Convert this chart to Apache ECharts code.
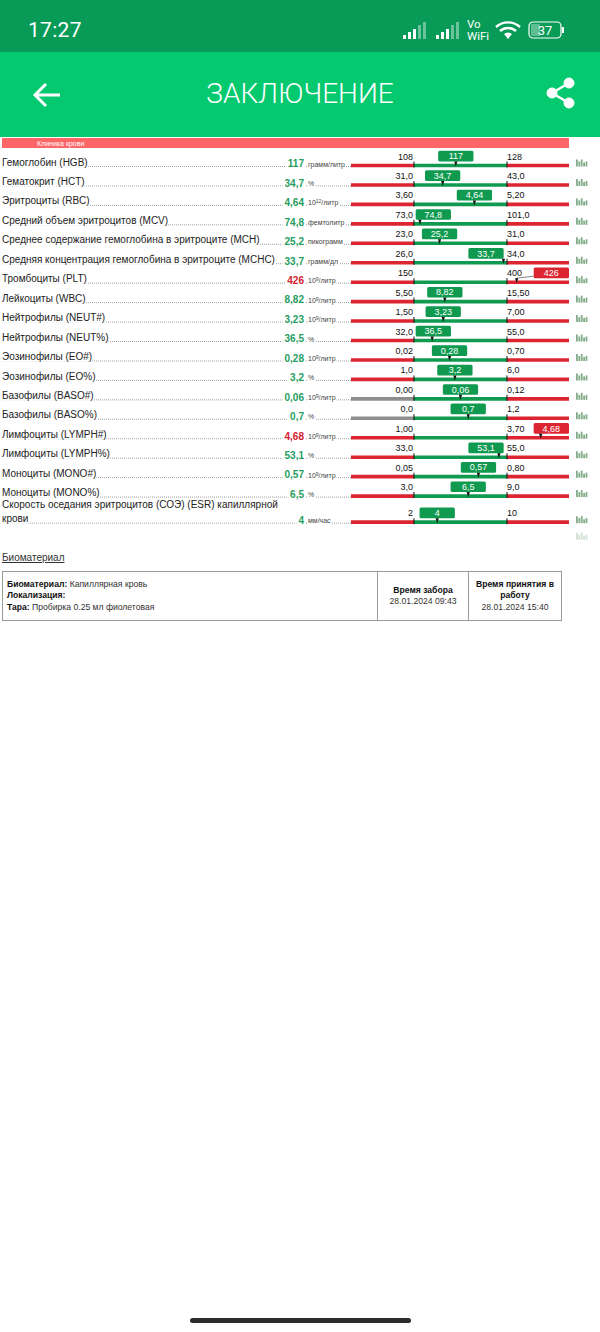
<!DOCTYPE html>
<html>
<head>
<meta charset="utf-8">
<title>Заключение</title>
<script src="https://cdn.jsdelivr.net/npm/echarts@6/dist/echarts.min.js"></script>
<style>
  html, body { margin: 0; padding: 0; background: #fff; }
  body { width: 600px; height: 1332px; position: relative; overflow: hidden; font-family: "Liberation Sans", Arial, sans-serif; }
  #status { position: absolute; left: 0; top: 0; width: 600px; height: 52px; background: #089b57; color: #fff; }
  #status .time { position: absolute; left: 28px; top: 18px; font: 21px Roboto, sans-serif; letter-spacing: .3px; }
  #appbar { position: absolute; left: 0; top: 52px; width: 600px; height: 85px; background: #04c96f; color: #fff; }
  #appbar .title { position: absolute; left: 0; right: 0; top: 25px; text-align: center; font: 300 28px Roboto, sans-serif; }
  #band { position: absolute; left: 2px; top: 138px; width: 567px; height: 10px; background: #fd6567; color: #fff; font-size: 7px; line-height: 11px; }
  #band span { position: absolute; left: 35px; }
  #chart { position: absolute; left: 0; top: 148px; width: 600px; height: 400px; }
  #bioTitle { position: absolute; left: 2px; top: 552px; font-size: 10px; color: #333; text-decoration: underline; }
  table { position: absolute; left: 2px; top: 571px; width: 559px; height: 50px; border-collapse: collapse; font-size: 8.6px; color: #333; table-layout: fixed; }
  td { border: 1px solid #999; padding: 0 4px; line-height: 11.5px; }
  td.c { text-align: center; }
  td b { color: #111; }
  #home { position: absolute; left: 190px; top: 1318px; width: 221px; height: 5px; border-radius: 3px; background: #2c2c2c; }
</style>
</head>
<body>
<div id="status">
  <div class="time">17:27</div>
  <svg style="position:absolute;left:400px;top:16px" width="175" height="28" fill="#fff">
    <g><rect x="3" y="19" width="3" height="4"/><rect x="8" y="16" width="3" height="7"/><rect x="13" y="13" width="3" height="10"/><rect x="18" y="9" width="3" height="14" opacity=".4"/><rect x="23" y="6" width="3" height="17" opacity=".4"/></g>
    <g transform="translate(33,0)"><rect x="3" y="19" width="3" height="4"/><rect x="8" y="16" width="3" height="7"/><rect x="13" y="13" width="3" height="10"/><rect x="18" y="9" width="3" height="14" opacity=".4"/><rect x="23" y="6" width="3" height="17" opacity=".4"/></g>
    <text x="67" y="12" font-family="Roboto" font-size="11.5">Vo</text>
    <text x="67" y="24" font-family="Roboto" font-size="11.5">WiFi</text>
    <g fill="none" stroke="#fff" stroke-width="2.4"><path d="M96 11 a18 18 0 0 1 24 0"/><path d="M100 15 a12 12 0 0 1 16 0"/></g>
    <path d="M104 18 a6 6 0 0 1 8 0 L108 23 Z"/>
    <rect x="129" y="6" width="32" height="16" rx="4" fill="none" stroke="#fff" stroke-width="1.2"/>
    <rect x="131" y="8" width="9" height="12" rx="1" opacity=".35"/>
    <text x="145" y="19" text-anchor="middle" font-family="Roboto" font-size="13">37</text>
    <rect x="162" y="11" width="2" height="6"/>
  </svg>
</div>
<div id="appbar">
  <div class="title">ЗАКЛЮЧЕНИЕ</div>
  <svg style="position:absolute;left:30px;top:26px" width="36" height="34" fill="none" stroke="#fff" stroke-width="3"><path d="M6 17 H30 M16 6 L5 17 L16 28"/></svg>
  <svg style="position:absolute;left:543px;top:24px" width="36" height="36" fill="#fff" stroke="#fff"><circle cx="26" cy="7" r="5"/><circle cx="9" cy="17" r="5"/><circle cx="26" cy="27" r="5"/><path d="M26 7 L9 17 L26 27" fill="none" stroke-width="2.5"/></svg>
</div>
<div id="band"><span>Клиника крови</span></div>
<div id="chart"></div>
<div id="bioTitle">Биоматериал</div>
<table>
  <colgroup><col style="width:375px"><col style="width:91px"><col style="width:93px"></colgroup>
  <tr>
    <td><b>Биоматериал:</b> Капиллярная кровь<br><b>Локализация:</b><br><b>Тара:</b> Пробирка 0.25 мл фиолетовая</td>
    <td class="c"><b>Время забора</b><br>28.01.2024 09:43</td>
    <td class="c"><b>Время принятия в работу</b><br>28.01.2024 15:40</td>
  </tr>
</table>
<div id="home"></div>
<script>
const names = [
  'Гемоглобин (HGB)', 'Гематокрит (HCT)', 'Эритроциты (RBC)', 'Средний объем эритроцитов (MCV)',
  'Среднее содержание гемоглобина в эритроците (MCH)', 'Средняя концентрация гемоглобина в эритроците (MCHC)',
  'Тромбоциты (PLT)', 'Лейкоциты (WBC)', 'Нейтрофилы (NEUT#)', 'Нейтрофилы (NEUT%)', 'Эозинофилы (EO#)',
  'Эозинофилы (EO%)', 'Базофилы (BASO#)', 'Базофилы (BASO%)', 'Лимфоциты (LYMPH#)', 'Лимфоциты (LYMPH%)',
  'Моноциты (MONO#)', 'Моноциты (MONO%)', 'Скорость оседания эритроцитов (СОЭ) (ESR) капиллярной\nкрови'
];
const units = [
  'грамм/литр', '%', '10^12/литр', 'фемтолитр', 'пикограмм', 'грамм/дл', '10^9/литр', '10^9/литр', '10^9/литр', '%',
  '10^9/литр', '%', '10^9/литр', '%', '10^9/литр', '%', '10^9/литр', '%', 'мм/час'
];
const values = ['117', '34,7', '4,64', '74,8', '25,2', '33,7', '426', '8,82', '3,23', '36,5', '0,28', '3,2', '0,06', '0,7', '4,68', '53,1', '0,57', '6,5', '4'];
const lows = ['108', '31,0', '3,60', '73,0', '23,0', '26,0', '150', '5,50', '1,50', '32,0', '0,02', '1,0', '0,00', '0,0', '1,00', '33,0', '0,05', '3,0', '2'];
const highs = ['128', '43,0', '5,20', '101,0', '31,0', '34,0', '400', '15,50', '7,00', '55,0', '0,70', '6,0', '0,12', '1,2', '3,70', '55,0', '0,80', '9,0', '10'];
// a zero lower limit has no "too low" zone, that piece of the bar stays grey
const greyLow = ['Базофилы (BASO#)', 'Базофилы (BASO%)'];

const RED = '#dd2531';
const GREEN = '#0f9a50';
const GREY = '#8e8e8e';
const num = s => parseFloat(s.replace(',', '.'));

// every row is one line high, a wrapped name makes its row taller
const rowPos = [];
let cursor = 0;
names.forEach(n => {
  if (n.indexOf('\n') >= 0) cursor += 0.34;
  rowPos.push(cursor);
  cursor += 1;
});
const iconOnlyRow = cursor - 0.15;

// x is the share of the reference range: 0 = low limit, 1 = high limit
const rows = names.map((n, i) => {
  const lo = num(lows[i]), hi = num(highs[i]);
  return [(num(values[i]) - lo) / (hi - lo), rowPos[i], i];
});

const font = 'Liberation Sans, Arial, sans-serif';

function txt(x, y, text, size, fill, align, extra) {
  return {
    type: 'text', z2: 5,
    style: Object.assign({ x, y, text, fontSize: size, fontFamily: font, fill, align: align || 'left', verticalAlign: 'middle' }, extra || {})
  };
}

function miniIcon(x, y, color) {
  const h = [7, 5, 7, 4, 5];
  return h.map((v, k) => ({ type: 'rect', shape: { x: x + k * 2.4, y: y - v, width: 1.8, height: v }, style: { fill: color } }));
}

function renderRow(params, api) {
  const i = api.value(2);
  const share = api.value(0);
  const pt = api.coord([share, api.value(1)]);
  const mx = pt[0], y = pt[1];
  const x0 = api.coord([0, 0])[0], x1 = api.coord([1, 0])[0];
  const left = params.coordSys.x, right = left + params.coordSys.width;
  const bad = share > 1 || share < 0;
  const kids = [];

  // dotted leader runs under the texts, their white background hides it
  kids.push({ type: 'line', shape: { x1: 2, y1: y + 1, x2: left, y2: y + 1 }, style: { stroke: '#777', lineWidth: 0.7, lineDash: [1, 1] } });
  const lines = names[i].split('\n');
  lines.forEach((l, k) => {
    kids.push(txt(2, y - 3.4 - (lines.length - 1 - k) * 14.3, l, 10, '#222', 'left', { backgroundColor: '#fff' }));
  });
  kids.push(txt(305, y - 1.7, values[i], 10, bad ? '#d3202c' : '#1f9e5e', 'right', { fontWeight: 'bold', backgroundColor: '#fff', padding: [0, 1, 0, 2] }));
  const parts = units[i].split('^');
  const unit = parts.length > 1
    ? parts[0] + '{sup|' + parts[1].split('/')[0] + '}/' + parts[1].split('/')[1]
    : parts[0];
  kids.push(txt(308, y - 1.5, unit, 7, '#444', 'left', {
    backgroundColor: '#fff', padding: [0, 1, 0, 0],
    rich: { sup: { fontSize: 5, fontFamily: font, fill: '#444', verticalAlign: 'top', lineHeight: 8 } }
  }));

  // three pieces of the bar
  const bar = (a, b, color) => ({ type: 'rect', shape: { x: a, y: y - 1.8, width: b - a, height: 3.6 }, style: { fill: color } });
  kids.push(bar(left, x0, greyLow.indexOf(names[i]) >= 0 ? GREY : RED));
  kids.push(bar(x0, x1, GREEN));
  kids.push(bar(x1, right, RED));
  [x0, x1].forEach(x => kids.push({ type: 'rect', shape: { x: x - 0.5, y: y - 4, width: 1, height: 6 }, style: { fill: '#111' } }));
  kids.push(txt(x0 - 1, y - 9, lows[i], 9, '#111', 'right'));
  kids.push(txt(x1, y - 9, highs[i], 9, '#111', 'left'));

  // pill with the result, it stays inside the normal zone or goes to the right end
  const pw = 35.3;
  const px = bad ? right - pw : Math.min(Math.max(mx - pw / 2, x0 + 1.7), x1 - 3.3 - pw);
  if (bad) kids.push({ type: 'line', shape: { x1: mx, y1: y - 4, x2: px, y2: y - 6 }, style: { stroke: '#333', lineWidth: 0.6 } });
  kids.push({ type: 'rect', shape: { x: px, y: y - 14.7, width: pw, height: 10.7, r: 1.5 }, style: { fill: bad ? RED : GREEN } });
  kids.push(txt(px + pw / 2, y - 9.2, values[i], 9, '#fff', 'center'));
  kids.push({ type: 'polygon', shape: { points: [[mx - 1.6, y - 4], [mx + 1.6, y - 4], [mx, y + 1]] }, style: { fill: '#111' } });

  miniIcon(right + 7, y + 1, '#83ad8a').forEach(r => kids.push(r));
  return { type: 'group', children: kids };
}

const chart = echarts.init(document.getElementById('chart'), null, { renderer: 'svg' });
chart.setOption({
  animation: false,
  grid: { left: 351, right: 31, top: 0, bottom: 0 },
  xAxis: { type: 'value', min: -0.677, max: 0.667 + 1, show: false },
  yAxis: { type: 'value', inverse: true, min: -0.9, max: 19.67, show: false },
  series: [
    { type: 'custom', data: rows, renderItem: renderRow, clip: false, silent: true },
    {
      type: 'custom', data: [[0, iconOnlyRow]], clip: false, silent: true,
      renderItem: (params, api) => {
        const y = api.coord([0, api.value(1)])[1];
        return { type: 'group', children: miniIcon(params.coordSys.x + params.coordSys.width + 7, y + 1, '#d3e2d5') };
      }
    }
  ]
});
</script>
</body>
</html>
